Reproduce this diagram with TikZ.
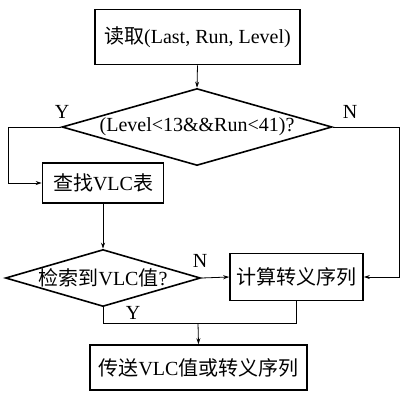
\documentclass[tikz,border=0pt]{standalone}
\usepackage{fontspec}
\setmainfont{Liberation Serif}
\newfontfamily\cjk{Noto Sans CJK SC}
\usetikzlibrary{shapes.geometric,arrows.meta}
\begin{document}
\begin{tikzpicture}[x=1pt,y=-1pt,
  font=\fontsize{20}{24}\selectfont,
  box/.style={draw,line width=1.6pt,inner sep=0pt},
  dia/.style={draw,diamond,line width=1.6pt,inner sep=0pt},
  conn/.style={line width=0.8pt},
  arr/.style={conn,-{Stealth[length=6pt,width=4pt]}},
  lbl/.style={inner sep=0pt}]
\useasboundingbox (0,0) rectangle (401,392);
\node[box,minimum width=205pt,minimum height=55pt] (b1) at (197.5,37) {};
\node[lbl] (t1) at (b1.center) {{\cjk 读取}(Last, Run, Level)};
\node[dia,minimum width=270pt,minimum height=77pt] (d1) at (197,127) {};
\node[lbl] (t2) at (d1.center) {(Level<13\&\&Run<41)?};
\node[box,minimum width=121pt,minimum height=40pt] (b2) at (103,183) {};
\node[lbl] (t3) at (b2.center) {{\cjk 查找}VLC{\cjk 表}};
\node[dia,minimum width=195pt,minimum height=57pt] (d2) at (103,278) {};
\node[lbl] (t4) at (d2.center) {{\cjk 检索到}VLC{\cjk 值}?};
\node[box,minimum width=133pt,minimum height=47pt] (b3) at (296.5,277) {};
\node[lbl] (t5) at (b3.center) {\cjk 计算转义序列};
\node[box,minimum width=217pt,minimum height=45pt] (b4) at (198.5,367.5) {};
\node[lbl] (t6) at (b4.center) {{\cjk 传送}VLC{\cjk 值或转义序列}};
\node[lbl] (y1) at (62,112) {Y};
\node[lbl] (n1) at (350,112) {N};
\node[lbl] (n2) at (200,261) {N};
\node[lbl] (y2) at (133,313) {Y};
\coordinate (cl) at (8,127);
\coordinate (cr) at (399.5,127);
\coordinate (m) at (198,323);
\draw[arr] (b1.south) -- (d1.north);
\draw[arr] (d1.west) -- (cl) |- (b2.west);
\draw[arr] (d1.east) -- (cr) |- (b3.east);
\draw[arr] (b2.south) -- (d2.north);
\draw[arr] (d2.east) -- (b3.west);
\draw[conn] (d2.south) |- (m) -| (b3.south);
\draw[arr] (m) -- (b4.north);
\end{tikzpicture}
\end{document}
